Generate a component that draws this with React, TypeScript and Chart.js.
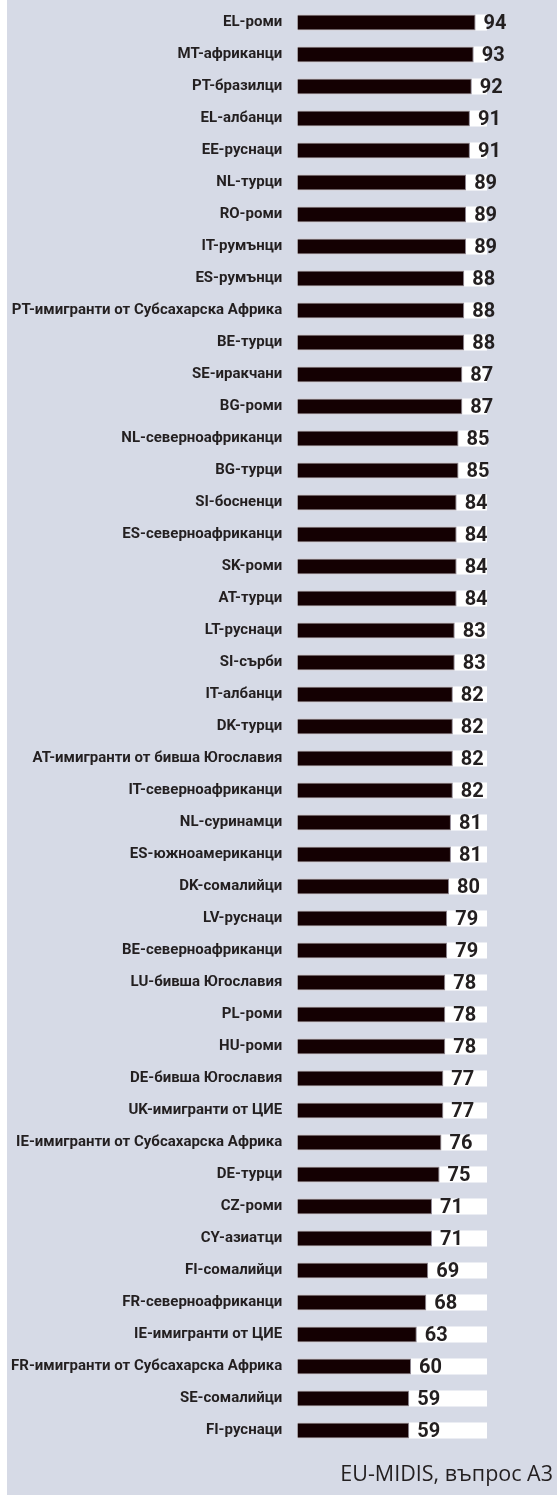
import React, { useEffect, useRef } from "react";
import { Chart, registerables } from "chart.js";

Chart.register(...registerables);

const categories: string[] = [
  "EL-роми",
  "MT-африканци",
  "PT-бразилци",
  "EL-албанци",
  "EE-руснаци",
  "NL-турци",
  "RO-роми",
  "IT-румънци",
  "ES-румънци",
  "PT-имигранти от Субсахарска Африка",
  "BE-турци",
  "SE-иракчани",
  "BG-роми",
  "NL-северноафриканци",
  "BG-турци",
  "SI-босненци",
  "ES-северноафриканци",
  "SK-роми",
  "AT-турци",
  "LT-руснаци",
  "SI-сърби",
  "IT-албанци",
  "DK-турци",
  "AT-имигранти от бивша Югославия",
  "IT-северноафриканци",
  "NL-суринамци",
  "ES-южноамериканци",
  "DK-сомалийци",
  "LV-руснаци",
  "BE-северноафриканци",
  "LU-бивша Югославия",
  "PL-роми",
  "HU-роми",
  "DE-бивша Югославия",
  "UK-имигранти от ЦИЕ",
  "IE-имигранти от Субсахарска Африка",
  "DE-турци",
  "CZ-роми",
  "CY-азиатци",
  "FI-сомалийци",
  "FR-северноафриканци",
  "IE-имигранти от ЦИЕ",
  "FR-имигранти от Субсахарска Африка",
  "SE-сомалийци",
  "FI-руснаци",
];

const values: number[] = [
  94, 93, 92, 91, 91, 89, 89, 89, 88, 88, 88, 87, 87, 85, 85, 84, 84, 84, 84,
  83, 83, 82, 82, 82, 82, 81, 81, 80, 79, 79, 78, 78, 78, 77, 77, 76, 75, 71,
  71, 69, 68, 63, 60, 59, 59,
];

const trackMax = 100;
const footerText = "EU-MIDIS, въпрос A3";

const LABEL_FONT = 'Roboto, "Open Sans", "DejaVu Sans", sans-serif';
const FOOTER_FONT = '"Open Sans", "DejaVu Sans", sans-serif';
const TEXT_COLOR = "#231f20";

export default function App() {
  const canvasRef = useRef<HTMLCanvasElement | null>(null);

  useEffect(() => {
    document.body.style.margin = "0";
    document.body.style.background = "#ffffff";
    const canvas = canvasRef.current;
    if (!canvas) return;

    const valueLabels = {
      id: "valueLabels",
      afterDatasetsDraw(chart: any) {
        const ctx = chart.ctx;
        const meta = chart.getDatasetMeta(1);
        ctx.save();
        ctx.font = `bold 20px ${LABEL_FONT}`;
        ctx.fillStyle = TEXT_COLOR;
        ctx.textAlign = "left";
        ctx.textBaseline = "middle";
        meta.data.forEach((bar: any, i: number) => {
          ctx.fillText(String(values[i]), bar.x + 8, bar.y + 1);
        });
        ctx.restore();
      },
    };

    const footer = {
      id: "footer",
      afterDraw(chart: any) {
        const ctx = chart.ctx;
        ctx.save();
        ctx.font = `21.5px ${FOOTER_FONT}`;
        ctx.fillStyle = TEXT_COLOR;
        ctx.textAlign = "right";
        ctx.textBaseline = "alphabetic";
        ctx.fillText(footerText, chart.width - 4, 1481);
        ctx.restore();
      },
    };

    const chart = new Chart(canvas, {
      type: "bar",
      data: {
        labels: categories,
        datasets: [
          {
            data: categories.map(() => trackMax),
            backgroundColor: "#ffffff",
            borderWidth: 0,
            grouped: false,
            order: 2,
            barPercentage: 0.5,
            categoryPercentage: 1,
          },
          {
            data: values,
            backgroundColor: "#140002",
            borderColor: "#8e8794",
            borderWidth: 1,
            grouped: false,
            order: 1,
            barPercentage: 0.5,
            categoryPercentage: 1,
          },
        ],
      },
      options: {
        indexAxis: "y",
        responsive: false,
        animation: false,
        layout: { padding: { left: 0, right: 70, top: 6.5, bottom: 48.5 } },
        plugins: {
          legend: { display: false },
          tooltip: { enabled: false },
          title: { display: false },
        },
        scales: {
          x: { display: false, min: 0, max: 100 },
          y: {
            type: "category",
            grid: { display: false },
            border: { display: false },
            ticks: {
              autoSkip: false,
              padding: 7,
              color: TEXT_COLOR,
              font: { family: LABEL_FONT, size: 15, weight: "bold" },
            },
            afterFit(scale: any) {
              scale.width = 290.3;
              scale.paddingTop = 0;
              scale.paddingBottom = 0;
            },
          },
        },
      },
      plugins: [valueLabels, footer],
    } as any);

    return () => chart.destroy();
  }, []);

  return (
    <div
      style={{
        position: "relative",
        marginLeft: 7,
        width: 550,
        height: 1495,
        background: "#d6dae6",
      }}
    >
      <canvas ref={canvasRef} width={550} height={1495} style={{ display: "block" }} />
    </div>
  );
}
